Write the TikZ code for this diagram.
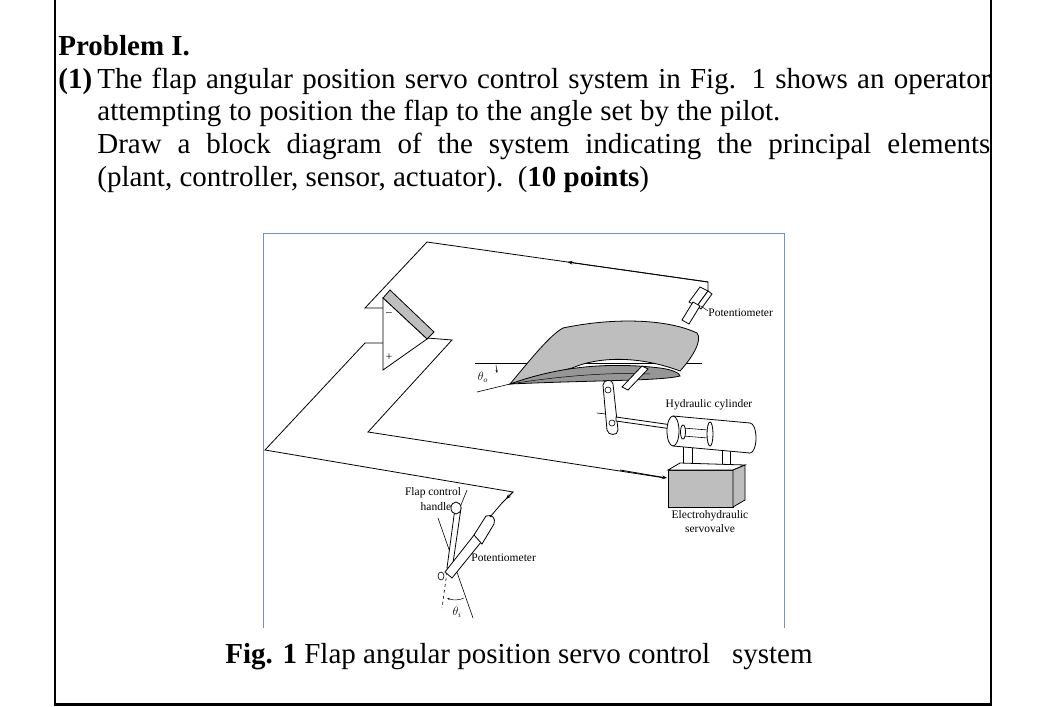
\documentclass[tikz,border=0pt]{standalone}
\usepackage{fontspec}
\setmainfont{Liberation Serif}
\usetikzlibrary{arrows.meta,calc}
\tikzset{every picture/.style={line width=0.75pt}}
\tikzset{
  wire/.style={line width=0.8pt},
  part/.style={line width=0.8pt,fill=white},
  shade/.style={line width=0.8pt,fill={rgb,255:red,190;green,190;blue,190}},
  lbl/.style={font=\fontsize{11.5}{13}\selectfont,inner sep=0pt},
  txt/.style={font=\fontsize{29}{33}\selectfont,anchor=base west,inner sep=0pt}}
\begin{document}
\begin{tikzpicture}[x=1pt,y=1pt,yscale=-1,xscale=1]
	\useasboundingbox (0,0) rectangle (1058,707);

	%Outer frame
	\draw [line width=1.2pt] (55,0) -- (55,703);
	\draw [line width=1.2pt] (991,0) -- (991,703);
	\draw [line width=3pt] (54,704) -- (992,704);

	% Text Node
	\node [txt] (title) at (58,55) {\textbf{Problem I.}};
	\node [txt] (num) at (58,88) {\textbf{(1)}};
	\node [txt] (l1) at (97,88) {\makebox[893pt][s]{The flap angular position servo control system in Fig. 1 shows an operator}};
	\node [txt] (l2) at (97,120) {\makebox[683pt][s]{attempting to position the flap to the angle set by the pilot.}};
	\node [txt] (l3) at (97,153) {\makebox[893pt][s]{Draw a block diagram of the system indicating the principal elements}};
	\node [txt] (l4) at (97,186) {(plant, controller, sensor, actuator).\enspace(\textbf{10 points})};

	%Figure frame
	\draw [color={rgb,255:red,120;green,145;blue,185},line width=1pt] (263,628) -- (263,233) -- (784,233) -- (784,628);

	%Wires
	\coordinate (tw1) at (427,242);
	\coordinate (tw2) at (708,282);
	\coordinate (tw3) at (708,291);
	\coordinate (tw4) at (365,308);
	\coordinate (mi) at (383,308);
	\coordinate (pl) at (383,343);
	\coordinate (po) at (427,338);
	\draw [wire] (tw3) -- (tw2) -- (tw1) -- (tw4) -- (mi);
	\draw [wire,-{Stealth[length=5pt]}] (tw2) -- ($(tw1)!0.5!(tw2)$);
	\draw [wire] (pl) -- (365,343) -- (265,450) -- (513,492) -- (502,503);
	\draw [wire,-{Stealth[length=5pt]}] (513,492) -- (506,499);
	\draw [wire] (po) -- (452,340) -- (368,432) -- (665,478);
	\draw [wire,-{Stealth[length=5pt]}] (620,470) -- (667,478);

	%Amplifier
	\draw [shade] (383,298) -- (390,290) -- (434,332) -- (427,339) -- cycle;
	\draw [part] (383,298) -- (427,339) -- (383,370) -- cycle;
	\node [lbl] (minus) at (389,314) {--};
	\node [lbl] (plus) at (389,357) {+};

	%Feedback potentiometer
	\draw [part] (689,302) -- (700,287) -- (708,291) -- (697,306) -- cycle;
	\draw [part] (697,306) -- (708,291) -- (712,294) -- (701,309) -- cycle;
	\draw [part] (682,320) -- (693,302) -- (700,306) -- (689,324) -- cycle;
	\node [lbl,anchor=west] (potout) at (708,313) {Potentiometer};
	\draw [line width=0.5pt] (708,311) -- (701,306);

	%Flap
	\draw [line width=0.6pt] (475,363) -- (702,363);
	\draw [line width=0.6pt] (477,392) -- (510,384);
	\draw [shade] (510,384) .. controls (530,360) and (550,335) .. (563,328)
		.. controls (610,318) and (665,318) .. (697,333)
		.. controls (703,340) and (692,358) .. (680,371)
		.. controls (640,356) and (600,356) .. (572,368) -- cycle;
	\draw [fill={rgb,255:red,150;green,150;blue,150},line width=0.8pt] (510,384) .. controls (560,366) and (610,362) .. (660,368)
		.. controls (675,370) and (680,374) .. (680,376)
		.. controls (660,381) and (600,380) .. (510,384) -- cycle;
	\draw [line width=0.5pt] (510,384) .. controls (560,376) and (610,372) .. (650,374);
	\node [lbl] (thetao) at (483,377) {$\theta_o$};
	\draw [line width=0.5pt,-{Stealth[length=3pt]}] (496,365) -- (497,373);

	%Link and rod
	\draw [part] (642,366) -- (648,369) -- (628,390) -- (622,387) -- cycle;
	\draw [part] (603,385) .. controls (603,379) and (613,379) .. (613,384) -- (618,430) .. controls (618,436) and (608,436) .. (607,430) -- cycle;
	\draw [line width=0.6pt] (608,390) circle (3pt);
	\draw [line width=0.6pt] (612,423) circle (3pt);
	\draw [line width=0.6pt] (597,413) -- (606,414);
	\draw [part] (616,417) -- (672,425) -- (672,429) -- (616,421) -- cycle;

	%Servovalve legs
	\draw [part] (683,445) -- (692,445) -- (692,467) -- (683,467) -- cycle;
	\draw [part] (722,448) -- (730,448) -- (730,468) -- (722,468) -- cycle;

	%Hydraulic cylinder
	\draw [part] (750,438) ellipse (6pt and 15pt);
	\fill [white] (673,416) -- (750,423) -- (750,453) -- (673,446) -- cycle;
	\draw [line width=0.8pt] (673,416) -- (750,423);
	\draw [line width=0.8pt] (673,446) -- (750,453);
	\draw [line width=0.6pt] (683,428) -- (708,430);
	\draw [line width=0.6pt] (683,436) -- (708,438);
	\draw [part] (710,434) ellipse (3pt and 12pt);
	\draw [part] (673,431) ellipse (6pt and 15pt);
	\draw [part] (683,432) ellipse (2.5pt and 7pt);
	\node [lbl] (hyd) at (709,405) {Hydraulic cylinder};

	%Servovalve
	\draw [shade] (668,470) -- (733,470) -- (733,507) -- (668,507) -- cycle;
	\draw [part] (668,470) -- (680,463) -- (745,465) -- (733,470) -- cycle;
	\draw [shade] (733,470) -- (745,465) -- (745,500) -- (733,507) -- cycle;
	\node [lbl] (ehv) at (710,516) {Electrohydraulic};
	\node [lbl] (sv) at (710,529) {servovalve};

	%Input handle and potentiometer
	\draw [line width=0.6pt] (438,518) -- (473,618);
	\draw [line width=0.6pt] (467,490) -- (455,520);
	\draw [line width=0.6pt,dashed] (447,572) -- (442,608);
	\draw [part] (447,568) -- (455,508) -- (461,508) -- (452,570) -- cycle;
	\draw [part] (456,508) ellipse (5pt and 6pt);
	\draw [part] (445,572) -- (478,530) -- (486,536) -- (452,578) -- cycle;
	\draw [part] (474,535) -- (486,516) .. controls (492,514) and (496,518) .. (494,524) -- (482,544) -- cycle;
	\draw [line width=0.6pt] (441,576) ellipse (3pt and 4pt);
	\draw [wire] (490,517) -- (502,503);
	\node [lbl] (fch1) at (433,493) {Flap control};
	\node [lbl] (fch2) at (436,507) {handle};
	\node [lbl,anchor=west] (potin) at (471,558) {Potentiometer};
	\draw [line width=0.5pt,-{Stealth[length=3pt]}] (464,598) .. controls (457,601) and (452,600) .. (447,598);
	\node [lbl] (thetai) at (457,612) {$\theta_i$};

	% Caption
	\node [txt] (cap) at (225,663) {\textbf{Fig. 1} Flap angular position servo control \ \ system};
\end{tikzpicture}
\end{document}
